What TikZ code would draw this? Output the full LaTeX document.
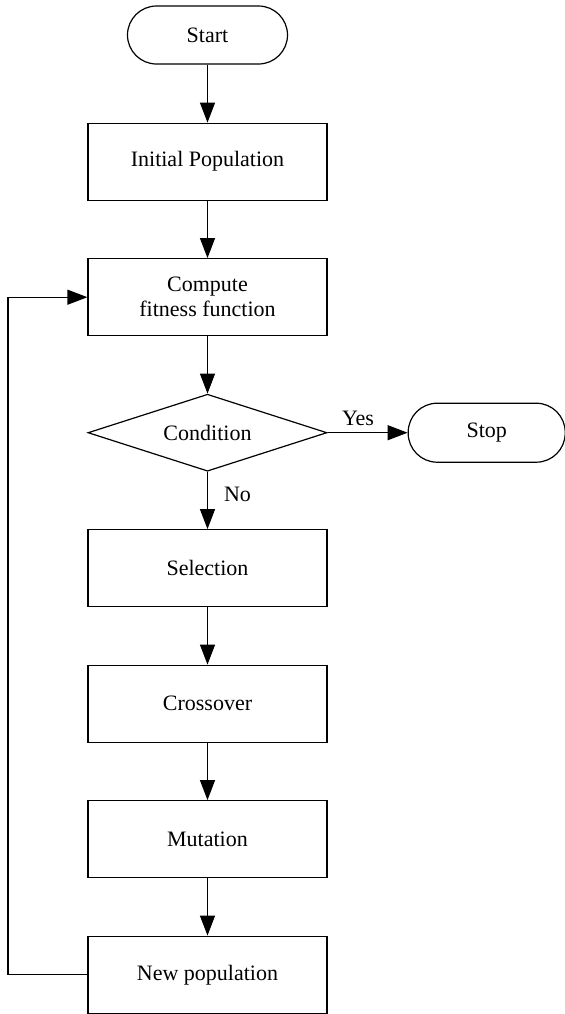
\documentclass[tikz,border=0pt]{standalone}
\usepackage{fontspec}
\setmainfont{Liberation Serif}
\usetikzlibrary{shapes.geometric, arrows.meta, positioning}

\tikzset{
  procbox/.style={draw, line width=0.6pt, minimum width=119.5pt, minimum height=38.5pt, inner sep=0pt, align=center},
  termbox/.style={draw, line width=0.6pt, rounded corners=14.5pt, minimum width=80pt, minimum height=29pt, inner sep=0pt},
  decbox/.style={draw, line width=0.6pt, diamond, aspect=3.1, minimum width=119.5pt, minimum height=38.5pt, inner sep=0pt},
  flow/.style={-{Triangle[length=10pt,width=7.5pt]}, line width=0.6pt}
}

\begin{document}
\begin{tikzpicture}[node distance=28.65pt, font=\fontsize{11}{12.5}\selectfont]
        \useasboundingbox (0,0) rectangle (282.5pt,-507pt);
        \node[termbox] (start) at (103.75pt,-17.5pt) {Start};
        \node[procbox, below=29pt of start] (init) {Initial Population};
        \node[procbox, below=of init] (fitness) {Compute\\fitness function};
        \node[decbox, below=of fitness] (cond) {Condition};
        \node[termbox, minimum width=78.5pt, minimum height=29.5pt, right=40pt of cond] (stop) {Stop};
        \node[procbox, below=of cond] (select) {Selection};
        \node[procbox, below=of select] (cross) {Crossover};
        \node[procbox, below=of cross] (mutate) {Mutation};
        \node[procbox, below=of mutate] (newpop) {New population};
        \coordinate (loop) at (4pt,0);

        \foreach \a/\b in {start/init, init/fitness, fitness/cond, select/cross, cross/mutate, mutate/newpop}
          \draw[flow] (\a) -- (\b);
        \draw[flow] (cond) -- node[above, pos=0.38, inner sep=3pt] {Yes} (stop);
        \draw[flow] (cond) -- node[right, pos=0.4, inner sep=8pt] {No} (select);
        \draw[flow] (newpop.west) -- (loop |- newpop.west) -- (loop |- fitness.west) -- (fitness.west);
      \end{tikzpicture}
\end{document}
